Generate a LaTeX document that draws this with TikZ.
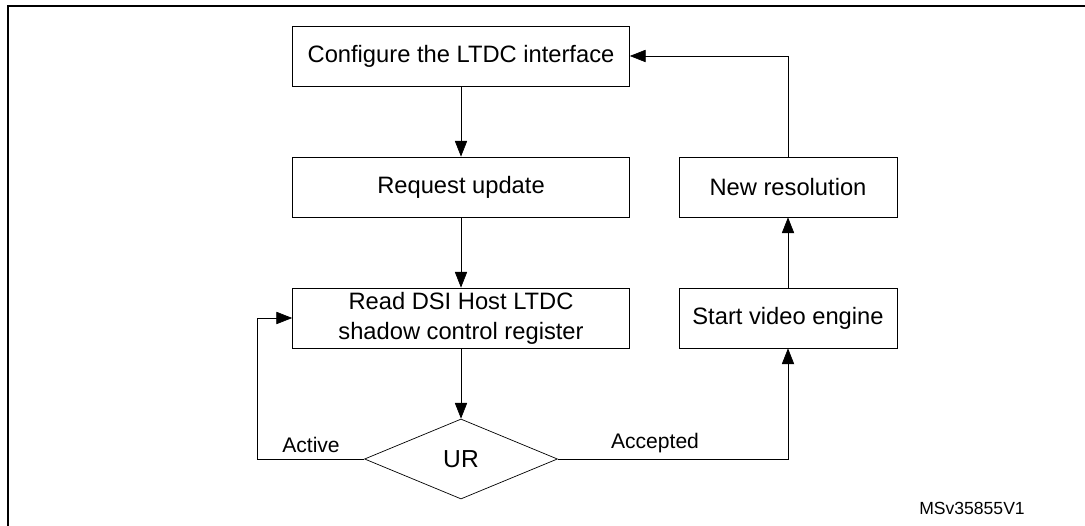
\documentclass[tikz,border=0pt]{standalone}
\usepackage{fontspec}
\setmainfont{Liberation Sans}
\usetikzlibrary{shapes.geometric,arrows.meta}
\begin{document}
\begin{tikzpicture}[
	x=0.02cm, y=-0.02cm,
	stepBox/.style={rectangle, draw=black, thin, inner sep=0pt, minimum width=6.74cm, minimum height=1.2cm, align=center, font=\fontsize{13.5}{17}\selectfont},
	sideBox/.style={rectangle, draw=black, thin, inner sep=0pt, minimum width=4.36cm, minimum height=1.2cm, align=center, font=\fontsize{13.5}{17}\selectfont},
	decision/.style={diamond, draw=black, thin, aspect=2.4, inner sep=0pt, minimum width=3.86cm, minimum height=1.6cm, font=\fontsize{14}{16}\selectfont},
	flow/.style={-{Triangle[length=9pt,width=7pt]}, thin},
	edgeLabel/.style={font=\fontsize{12}{14}\selectfont, above}
]
	\useasboundingbox (0,0) rectangle (1085,526);
	\draw[thick] (8,530) -- (8,6) -- (1090,6);

	\node[stepBox] (configure) at (461,56) {Configure the LTDC interface};
	\node[stepBox] (request) at (461,187) {Request update};
	\node[stepBox] (readReg) at (461,318) {Read DSI Host LTDC\\shadow control register};
	\node[decision] (ur) at (461,459) {UR};
	\node[sideBox] (resolution) at (788,187) {New resolution};
	\node[sideBox] (engine) at (788,318) {Start video engine};

	\coordinate (loopLeft) at (257,459);

	\draw[flow] (configure) -- (request);
	\draw[flow] (request) -- (readReg);
	\draw[flow] (readReg) -- (ur);
	\draw[flow] (ur.west) -- (loopLeft) |- (readReg.west);
	\draw[flow] (ur.east) -| (engine.south);
	\draw[flow] (engine) -- (resolution);
	\draw[flow] (resolution.north) |- (configure.east);

	\node[edgeLabel] (activeLabel) at (311,459) {Active};
	\node[edgeLabel] (acceptedLabel) at (655,459) {Accepted};
	\node[font=\fontsize{10}{12}\selectfont] (docId) at (972,508) {MSv35855V1};
\end{tikzpicture}
\end{document}
